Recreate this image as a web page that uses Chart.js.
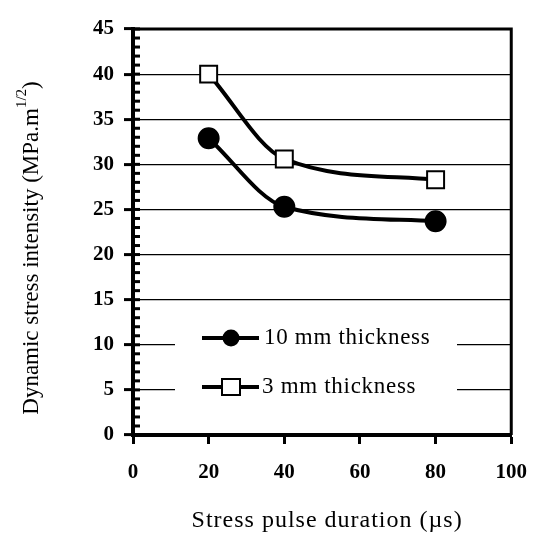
<!DOCTYPE html>
<html>
<head>
<meta charset="utf-8">
<script src="https://cdn.jsdelivr.net/npm/chart.js@4/dist/chart.umd.min.js"></script>
<style>
  html, body { margin:0; padding:0; background:#fff; }
  #wrap { width:543px; height:550px; }
</style>
</head>
<body>
<div id="wrap"><canvas id="c" width="543" height="550"></canvas></div>
<script>
/* stress pulse vs dynamic stress intensity */

const pulseUs   = [20, 40, 80];            // x: stress pulse duration
const k10mm     = [32.9, 25.3, 23.7];      // 10 mm thickness
const k3mm      = [40.0, 30.6, 28.3];      // 3 mm thickness
const seriesNames = ['10 mm thickness', '3 mm thickness'];
const xRange = [0, 100], xStep = 20;
const yRange = [0, 45],  yStep = 5, yMinor = 1;

const SERIF = '"Liberation Serif", "Times New Roman", serif';

function pts(ys){ return pulseUs.map((x,i)=>({ x, y: ys[i] })); }

// frame, minor ticks, titles, legend box
const decor = {
  id: 'decor',
  afterDatasetsDraw(chart){
    const { ctx, chartArea: a, scales } = chart;
    const ys = scales.y;

    // minor ticks on the y axis (inside)
    ctx.save();
    ctx.strokeStyle = '#000';
    ctx.lineWidth = 3;
    for (let v = yRange[0]; v <= yRange[1]; v += yMinor){
      const py = ys.getPixelForValue(v);
      ctx.beginPath();
      ctx.moveTo(a.left, py);
      ctx.lineTo(a.left + 7, py);
      ctx.stroke();
    }
    // top + right frame
    ctx.lineWidth = 3;
    ctx.beginPath();
    ctx.moveTo(a.left, a.top); ctx.lineTo(a.right, a.top); ctx.lineTo(a.right, a.bottom);
    ctx.stroke();
    ctx.restore();

    // legend inside plot
    ctx.save();
    const lx0 = 175, lx1 = 457, ly0 = 312, ly1 = 412;
    ctx.fillStyle = '#fff';
    ctx.fillRect(lx0, ly0, lx1 - lx0, ly1 - ly0);
    const rows = [338, 387];
    chart.data.datasets.forEach((ds, i)=>{
      const yy = rows[i];
      ctx.strokeStyle = '#000';
      ctx.lineWidth = 4;
      ctx.beginPath(); ctx.moveTo(202, yy); ctx.lineTo(259, yy); ctx.stroke();
      if (ds.pointStyle === 'circle'){
        ctx.fillStyle = '#000';
        ctx.beginPath(); ctx.arc(231, yy, 8.5, 0, Math.PI*2); ctx.fill();
      } else {
        ctx.fillStyle = '#fff';
        ctx.lineWidth = 2;
        ctx.fillRect(222, yy - 8, 18, 16);
        ctx.strokeRect(222, yy - 8, 18, 16);
      }
      ctx.fillStyle = '#000';
      ctx.font = '23px ' + SERIF;
      ctx.textBaseline = 'middle';
      ctx.textAlign = 'left';
      ctx.letterSpacing = '0.7px';
      ctx.fillText(ds.label, i === 0 ? 264 : 262, yy);
    });
    ctx.restore();
  },
  afterDraw(chart){
    const { ctx, chartArea: a } = chart;
    ctx.save();
    ctx.fillStyle = '#000';
    // x title
    ctx.font = '24px ' + SERIF;
    ctx.letterSpacing = '1px';
    ctx.textAlign = 'center';
    ctx.textBaseline = 'middle';
    ctx.fillText('Stress pulse duration (\u00b5s)', (a.left + a.right)/2 + 5, 521);
    // y title, with superscript
    ctx.letterSpacing = '0px';
    const main = 'Dynamic stress intensity (MPa.m', sup = '1/2', close = ')';
    ctx.font = '23px ' + SERIF;
    const w1 = ctx.measureText(main).width, w3 = ctx.measureText(close).width;
    ctx.font = '15px ' + SERIF;
    const w2 = ctx.measureText(sup).width;
    const tot = w1 + w2 + w3;
    ctx.translate(32, 248);
    ctx.rotate(-Math.PI/2);
    ctx.textAlign = 'left';
    let x = -tot/2;
    ctx.font = '23px ' + SERIF;
    ctx.fillText(main, x, 0); x += w1;
    ctx.font = '15px ' + SERIF;
    ctx.fillText(sup, x, -10); x += w2;
    ctx.font = '23px ' + SERIF;
    ctx.fillText(close, x, 0);
    ctx.restore();
  }
};

new Chart(document.getElementById('c'), {
  type: 'scatter',
  data: {
    datasets: [
      {
        label: seriesNames[0], data: pts(k10mm), showLine: true,
        borderColor: '#000', borderWidth: 4, cubicInterpolationMode: 'monotone',
        pointStyle: 'circle', pointRadius: 9, pointBackgroundColor: '#000', pointBorderColor: '#000'
      },
      {
        label: seriesNames[1], data: pts(k3mm), showLine: true,
        borderColor: '#000', borderWidth: 4, cubicInterpolationMode: 'monotone',
        pointStyle: 'rect', pointRadius: 12, pointBackgroundColor: '#fff', pointBorderColor: '#000', pointBorderWidth: 2
      }
    ]
  },
  options: {
    responsive: false,
    animation: false,
    layout: { padding: { left: 0, right: 31, top: 29, bottom: 0 } },
    plugins: { legend: { display: false }, tooltip: { enabled: false } },
    scales: {
      x: {
        type: 'linear', min: xRange[0], max: xRange[1],
        ticks: { stepSize: xStep, color: '#000', font: { family: SERIF, size: 21, weight: 'bold' }, padding: 16, maxRotation: 0 },
        grid: { drawOnChartArea: false, color: '#000', tickLength: 9, tickWidth: 3 },
        border: { color: '#000', width: 4 },
        afterFit(s){ s.height = 115; }
      },
      y: {
        min: yRange[0], max: yRange[1],
        ticks: { stepSize: yStep, color: '#000', font: { family: SERIF, size: 21, weight: 'bold' }, padding: 10 },
        grid: { color: '#000', lineWidth: 1.2, tickLength: 9, tickWidth: 3 },
        border: { color: '#000', width: 4 },
        afterFit(s){ s.width = 133; }
      }
    }
  },
  plugins: [decor]
});
</script>
</body>
</html>
